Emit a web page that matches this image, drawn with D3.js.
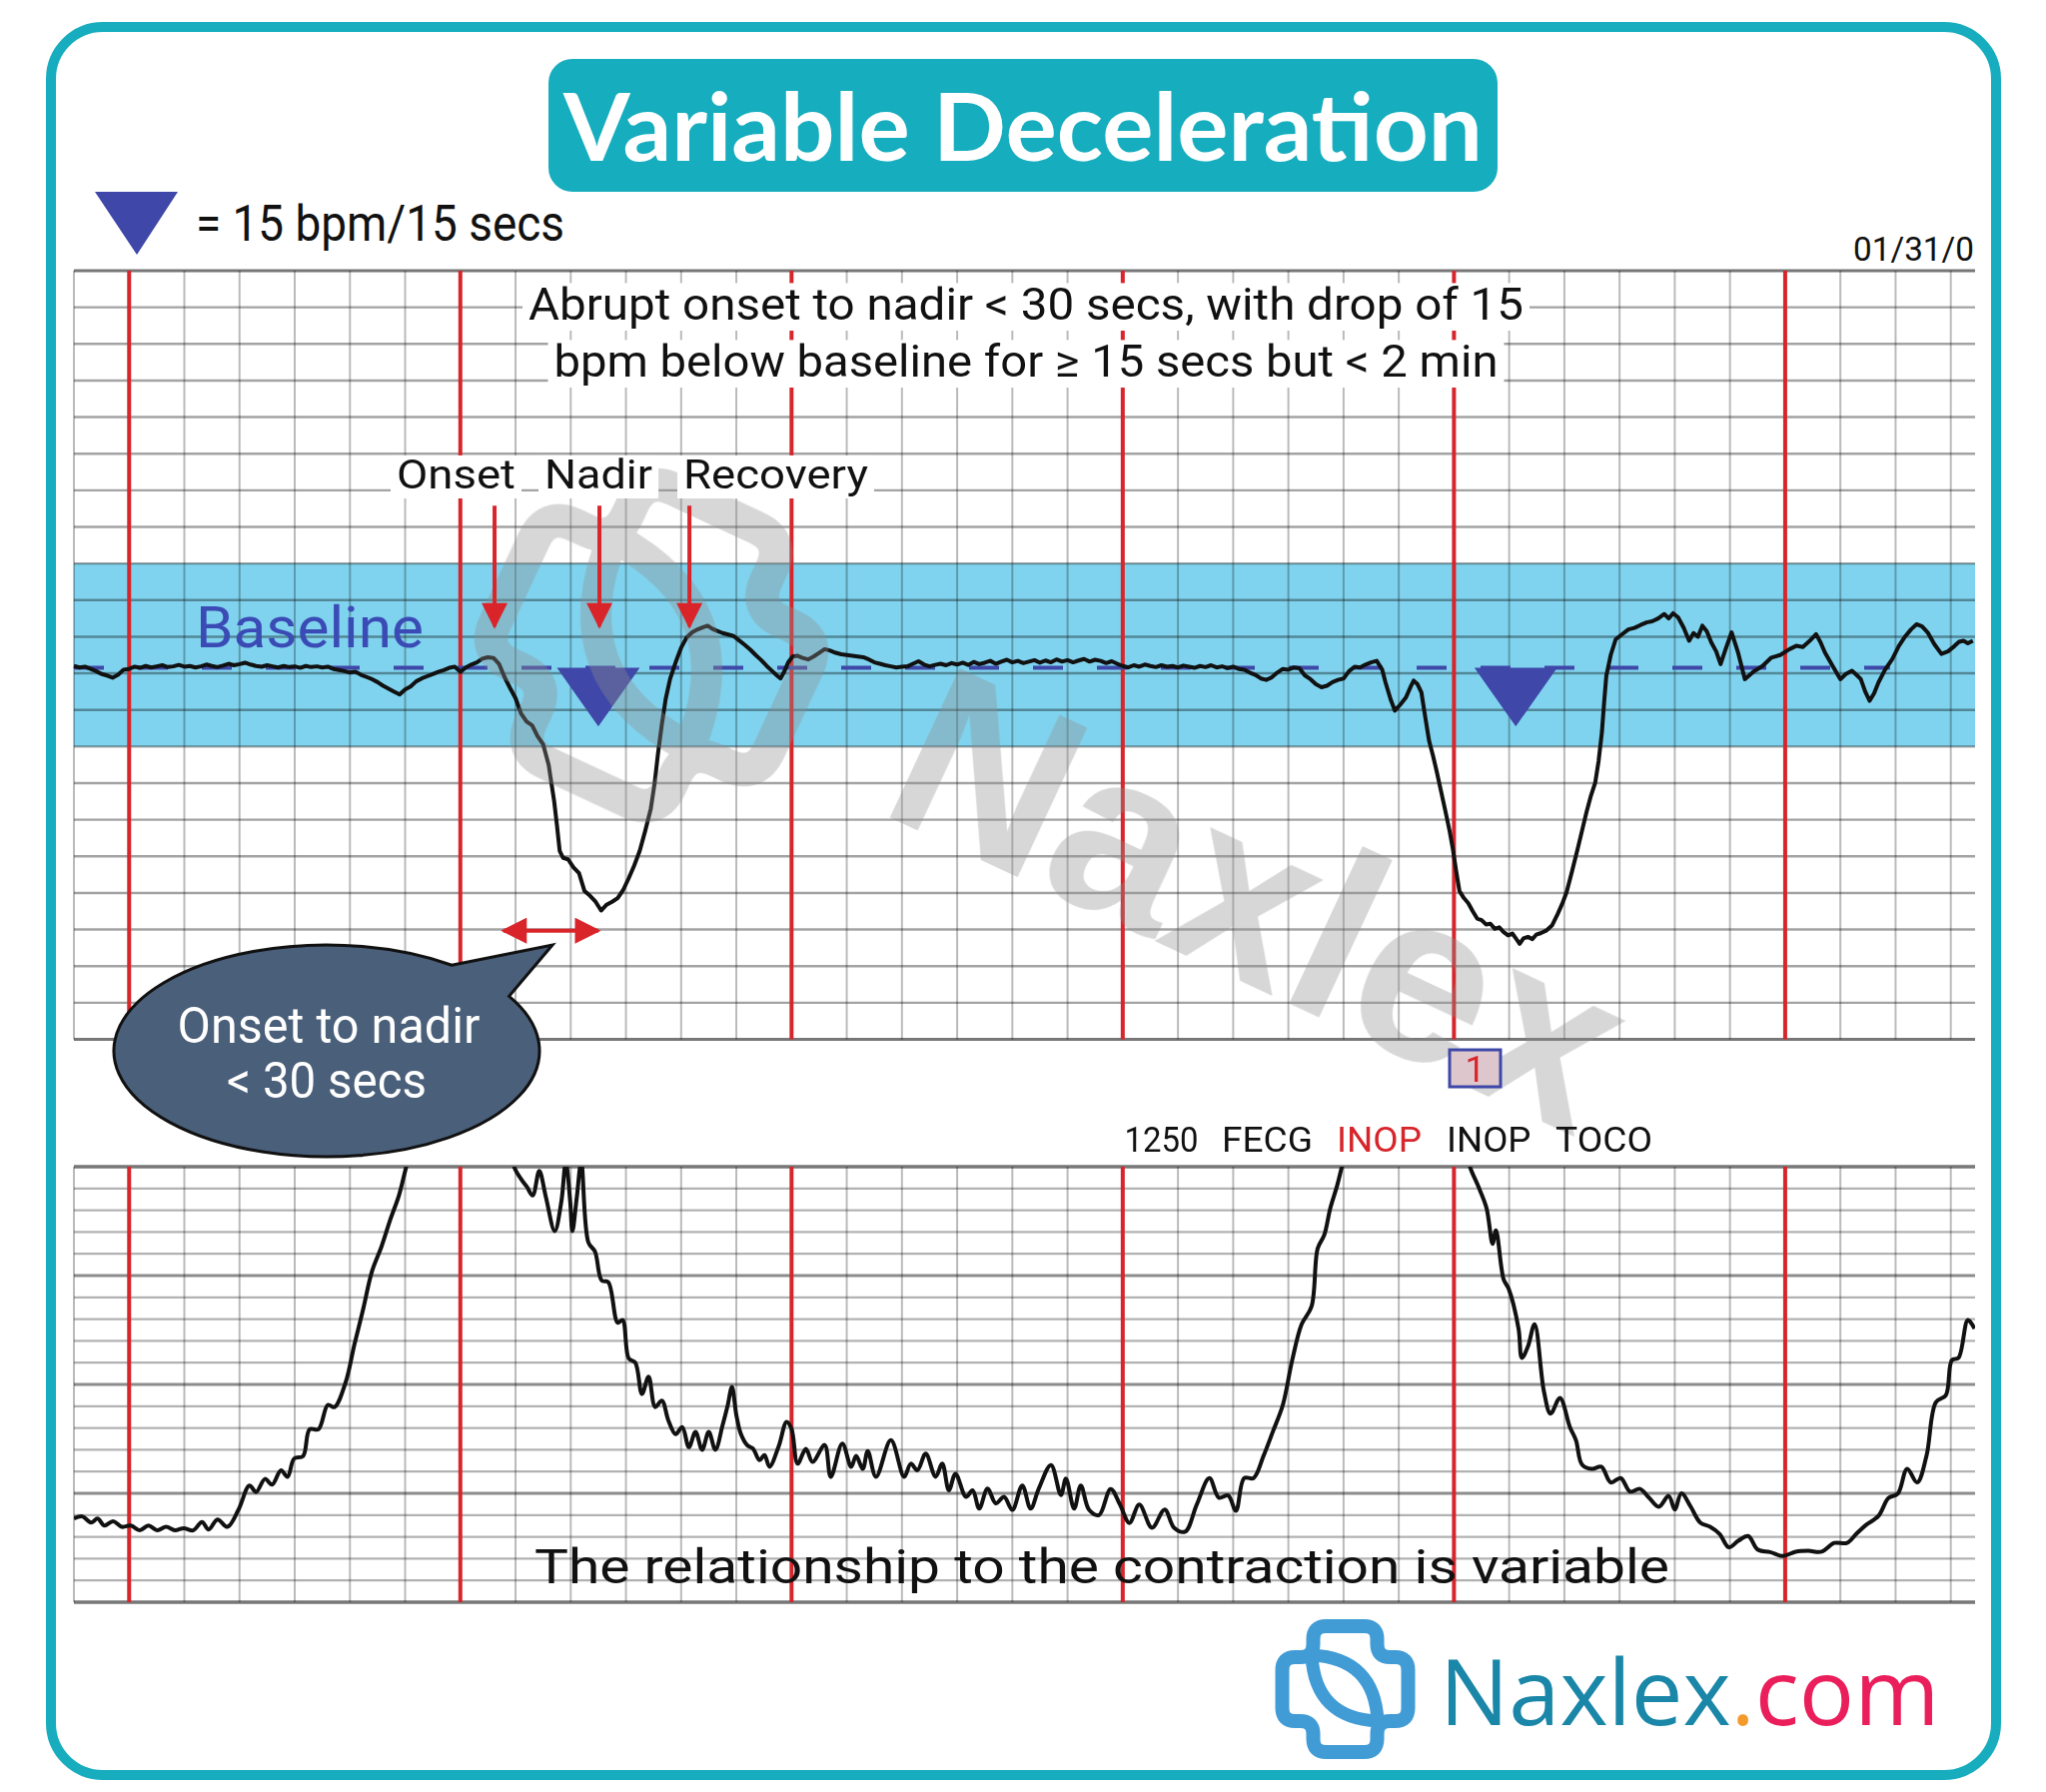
<!DOCTYPE html>
<html lang="en">
<head>
  <meta charset="UTF-8">
  <title>Variable Deceleration</title>
  <script src="https://d3js.org/d3.v7.min.js"></script>
  <style>
    body { margin: 0; background: #fff; }
    svg { display: block; }
  </style>
</head>
<body>
  <script>
    const W = 2048, H = 1794;
    const NARROW = "Roboto, 'Liberation Sans', sans-serif";
    const PLAIN = "Roboto, 'Liberation Sans', sans-serif";

    // ---- data ----
    const baselineBpm = 131.5;
    const bandBpm = [110, 160];
    const nadirSecs = [95, 261.2];          // blue triangle markers
    const markerSize = { secs: 15, bpm: 15 }; // triangle = 15 bpm / 15 secs
    const phaseLabels = ["Onset", "Nadir", "Recovery"];
    const phaseSecs = [76.2, 95.2, 111.5];
    const onsetToNadir = [77.8, 95];
    const statusWords = ["1250", "FECG", "INOP", "INOP", "TOCO"];
    const statusColors = ["#111", "#111", "#d7262b", "#111", "#111"];
    const brandParts = ["Naxlex", ".", "com"];
    const brandColors = ["#1a86a8", "#f39a2b", "#e91e5a"];

    // fetal heart rate [seconds, bpm]
    const fhrPoints = [
      [0,132.0],[1,131.6],[2,131.8],[3,131.2],[4,130.6],[5,129.8],[6,129.4],[7,128.8],[8,129.6],[9,131.0],
      [10,131.2],[11,131.8],[12,131.5],[13,132.0],[14,131.6],[15,131.9],[16,132.2],[17,131.7],[18,131.9],[19,132.3],
      [20,131.8],[21,132.0],[22,131.6],[23,131.9],[24,132.4],[25,132.0],[26,131.7],[27,132.1],[28,132.6],[29,132.2],
      [30,132.5],[31,132.9],[32,132.4],[33,132.0],[34,131.8],[35,132.2],[36,131.9],[37,131.6],[38,132.0],[39,131.7],
      [40,131.9],[41,131.5],[42,132.0],[43,131.7],[44,131.9],[45,131.6],[46,131.8],[47,131.2],[48,130.9],[49,130.6],
      [50,130.2],[51,130.4],[52,129.6],[53,129.0],[54,128.4],[55,127.6],[56,126.6],[57,125.8],[58,125.0],[59,124.2],
      [60,125.6],[61,126.4],[62,127.8],[63,128.6],[64,129.2],[65,129.8],[66,130.4],[67,130.9],[68,131.5],[69,131.8],
      [70,130.4],[71,131.6],[72,132.4],[73,133.0],[74,134.0],[75,134.4],[76,134.2],[77,132.6],[78,129.0],[79,126.0],
      [80,123.2],[81,119.0],[82,116.8],[83,115.8],[84,112.8],[85,110.6],[86,105.0],[87,95.0],[87.5,88.5],[88,81.5],
      [88.6,79.6],[89.5,79.2],[90.5,77.0],[91.5,75.4],[92.5,70.5],[93.5,69.2],[94.5,67.6],[95.5,65.2],[96.5,66.8],[97.5,67.6],
      [98.5,68.6],[99.5,70.8],[100.5,74.0],[101.5,77.5],[102.5,81.5],[103.5,87.0],[104.5,93.0],[105.2,100.0],[105.8,108.0],[106.5,116.0],
      [107.2,123.0],[108,128.5],[109,133.0],[110,137.0],[111,139.8],[112,141.2],[113,142.0],[114,142.6],[114.8,143.0],[115.6,142.2],
      [116.5,141.6],[117.5,141.0],[118.5,140.6],[119.5,140.2],[120.5,139.0],[121.5,137.8],[122.5,136.5],[123.5,135.0],[124.5,133.6],[125.5,132.0],
      [126.5,130.6],[127.5,129.2],[128,128.6],[128.6,130.2],[129.4,133.0],[130.2,134.6],[131,134.8],[132,134.2],[133,133.8],[134,134.6],
      [135,135.6],[136,136.6],[137,136.2],[138,135.6],[139,135.2],[140,135.0],[141,134.8],[142,134.6],[143,134.4],[144,133.8],
      [145,133.0],[146,132.6],[147,132.2],[148,131.9],[149,131.6],[150,131.8],[151,131.9],[152,132.6],[153,133.3],[154,132.4],
      [155,131.9],[156,132.3],[157,132.6],[158,132.2],[159,132.8],[160,132.4],[161,132.9],[162,132.3],[163,133.1],[164,132.5],
      [165,132.9],[166,133.4],[167,132.6],[168,133.2],[169,133.7],[170,133.0],[171,133.4],[172,132.8],[173,133.2],[174,133.6],
      [175,132.9],[176,133.5],[177,133.0],[178,133.8],[179,133.2],[180,133.6],[181,133.0],[182,133.5],[183,133.9],[184,133.2],
      [185,133.7],[186,133.4],[187,132.8],[188,133.3],[189,132.6],[190,132.0],[191,131.6],[192,132.2],[193,131.8],[194,132.4],
      [195,132.0],[196,131.7],[197,132.2],[198,131.8],[199,132.0],[200,131.6],[201,132.1],[202,131.8],[203,131.5],[204,132.0],
      [205,131.7],[206,132.2],[207,131.6],[208,131.9],[209,131.4],[210,131.8],[211,131.2],[212,131.0],[213,130.2],[214,129.6],
      [215,128.6],[216,128.2],[217,128.9],[218,130.2],[219,131.2],[220,131.0],[221,131.6],[222,131.4],[223,129.4],[224,128.4],
      [225,127.0],[226,126.2],[227,126.6],[228,127.6],[229,128.2],[230,128.6],[231,130.6],[232,131.8],[233,131.6],[234,132.4],
      [235,133.0],[236,133.4],[237,131.0],[237.6,127.5],[238.5,123.0],[239.3,119.8],[240.3,121.5],[241.3,123.4],[242.2,126.5],[242.7,128.0],
      [243.4,127.0],[244.1,124.8],[244.8,118.0],[245.5,111.5],[246.2,107.5],[246.9,103.0],[247.7,97.5],[248.5,92.0],[249.2,87.0],[249.8,82.0],
      [250.4,76.0],[251,70.5],[251.8,68.6],[252.6,67.2],[253.4,65.0],[254.2,63.0],[255,62.6],[255.8,61.4],[256.6,61.6],[257.4,60.2],
      [258.2,60.6],[259,59.3],[259.8,58.4],[260.6,58.9],[261.4,57.2],[261.9,56.1],[262.6,57.6],[263.4,58.0],[264.2,57.4],[264.9,58.6],
      [265.7,59.0],[266.7,59.7],[267.8,61.2],[268.8,64.3],[269.6,67.0],[270.4,70.2],[271.4,76.0],[272.4,82.0],[273.2,87.0],[274,92.0],
      [274.8,96.5],[275.6,100.2],[276.2,106.0],[276.8,113.9],[277.2,122.0],[277.6,129.3],[278.4,135.0],[279.3,139.3],[280.4,140.6],[281.6,142.0],
      [282.7,142.4],[283.8,143.2],[284.9,143.9],[285.9,144.2],[287,145.0],[288.1,146.2],[288.9,145.0],[289.7,146.4],[290.6,145.3],[291.6,142.5],
      [292.6,138.9],[293.4,141.0],[294.2,140.0],[295,143.0],[295.8,141.5],[296.6,138.5],[297.5,136.0],[298.3,132.5],[299.3,137.0],[300.3,141.2],
      [301.5,135.5],[302.7,128.4],[304.3,130.5],[305.9,132.0],[307.5,134.3],[309.1,135.0],[310.8,136.6],[312,137.5],[313.2,137.2],[314.4,138.8],
      [315.6,140.7],[316.4,138.5],[317.2,135.7],[318.6,132.0],[320,128.4],[321,129.8],[322.1,130.7],[322.9,129.6],[323.7,128.4],[324.5,125.0],
      [325.3,122.5],[326.1,124.5],[326.9,127.5],[328.1,131.0],[329.4,133.9],[330.6,137.5],[331.8,140.2],[332.8,142.0],[333.8,143.4],[334.8,142.8],
      [335.8,141.2],[337,138.0],[338.3,135.3],[339.5,136.0],[340.7,137.5],[341.5,138.6],[342.3,138.9],[343.1,138.2],[344,138.9]
    ];

    // uterine activity (toco) [seconds, mmHg]; values over 100 run off the paper
    const tocoPoints = [
      [0,19.2],[1.5,19.7],[3.1,18.3],[4.3,19.2],[5.5,17.6],[7.1,18.6],[8.7,17.3],[10.3,17.6],[11.9,16.5],[13.5,17.6],
      [15.1,16.5],[16.7,17.3],[18.3,16.5],[19.9,17.0],[21.6,16.5],[23.2,18.4],[24.4,16.7],[26,19.0],[27.8,17.3],[29.8,21.2],
      [31.8,26.8],[33,25.3],[34.6,28.3],[35.9,27.0],[37.5,30.3],[38.7,28.8],[39.9,33.0],[41.5,33.5],[42.7,39.7],[44.3,39.7],
      [46,45.3],[47.2,44.8],[49.2,50.4],[50.8,59.1],[52.4,67.3],[54,76.0],[55.7,81.6],[57.3,87.8],[58.9,93.5],[60.1,99.5],
      [61.5,106],[64,112],[70,118],[76,112],[79,104],[79.9,99.5],[81.1,97.0],[82,95.5],[83.1,93.4],[84.3,99.0],
      [85.5,93.0],[87.1,85.2],[88.3,92.0],[89.1,101],[89.9,92.0],[90.3,85.2],[91.1,93.0],[91.9,101],[93.2,82.6],[94.4,80.5],
      [95.6,73.9],[96.8,73.5],[98.5,64.2],[99.4,64.8],[100.5,56.0],[101.7,55.0],[102.9,47.8],[104.1,51.8],[105.3,44.8],[106.5,46.3],
      [107.7,41.7],[109,38.6],[110.2,40.2],[111.4,35.6],[112.6,39.1],[113.8,35.0],[115,39.1],[116.2,35.0],[117.5,40.6],[118.4,45.0],
      [119.2,49.4],[120,43.0],[120.8,38.7],[122,36.0],[123,35.3],[124.2,32.6],[125.1,33.8],[126,31.1],[127.7,35.9],[129.1,41.4],
      [130,39.8],[131.1,31.8],[132.6,35.2],[133.8,32.2],[136,36.1],[137.1,28.8],[139.2,36.4],[140.8,31.1],[141.7,33.6],[142.9,30.6],
      [143.8,34.7],[145.3,28.8],[148,37.2],[150.4,28.8],[151.6,31.8],[152.8,30.3],[154.3,34.1],[156.1,28.8],[157.3,31.8],[158.5,25.7],
      [159.7,29.5],[161.6,24.2],[162.8,25.7],[164,21.5],[165.5,26.1],[167,22.7],[168.5,24.2],[170,21.2],[171.8,26.8],[173.3,21.5],
      [174.8,26.1],[177,31.5],[178.8,24.6],[179.7,28.4],[181.2,21.5],[182.4,26.8],[183.9,21.2],[185.7,20.0],[187.8,26.0],[189.5,22.4],
      [191.2,18.2],[193,22.4],[195.3,17.1],[197.6,21.3],[199.3,17.1],[201.3,16.2],[203.4,22.4],[205.7,28.5],[207.4,24.0],[209.1,24.5],
      [210.5,21.0],[212,28.5],[213.7,28.5],[215.5,33.6],[217.2,39.2],[219,45.3],[220.7,55.6],[222.4,63.8],[224.2,67.9],[225.3,81.2],
      [226.5,84.3],[227.6,90.5],[228.8,95.5],[229.7,100],[231,106],[236,114],[242,118],[248,113],[252,104],[253,99.6],
      [254.4,95.5],[255.9,90.5],[257,82.3],[257.6,85.4],[259,74.1],[259.9,72.0],[261.7,62.8],[262.3,56.1],[263.4,58.7],[264.6,63.8],
      [266.3,48.4],[267.5,43.3],[269.2,46.9],[271,40.2],[272.1,37.2],[273.2,31.6],[275,30.6],[276.7,31.1],[278.4,27.5],[280.2,28.5],
      [281.9,25.4],[283.7,26.0],[285.4,23.9],[287.1,21.9],[288.9,24.4],[290,21.3],[291.2,25.0],[292.9,21.9],[294.6,18.3],[296.4,17.3],
      [298.1,15.7],[299.8,12.6],[301.5,14.1],[303.3,15.2],[305,12.1],[307.3,11.5],[309.6,10.6],[311.9,11.6],[314.2,11.8],[316.6,11.6],
      [318.9,13.6],[321.2,13.6],[322.9,15.7],[324.6,17.7],[326.9,19.8],[328.7,23.9],[330.4,24.9],[332.1,30.6],[333.9,27.5],[335.6,33.6],
      [337.3,45.9],[339.1,47.5],[340.2,55.6],[341.4,56.1],[343.1,64.8],[344.3,62.8]
    ];

    // ---- scales ----
    const x = d3.scaleLinear().domain([0, 344.4]).range([74, 1977]);
    const yFhr = d3.scaleLinear().domain([30, 240]).range([1040.5, 271]);
    const yToco = d3.scaleLinear().domain([0, 100]).range([1604, 1168]);
    const gridSecs = d3.range(0, 341, 10);
    const isMinute = d => (d - 10) % 60 === 0;

    const svg = d3.select("body").append("svg")
      .attr("width", W).attr("height", H)
      .attr("viewBox", `0 0 ${W} ${H}`);

    const defs = svg.append("defs");
    defs.append("marker")
      .attr("id", "head")
      .attr("viewBox", "0 0 10 10")
      .attr("refX", 9).attr("refY", 5)
      .attr("markerUnits", "userSpaceOnUse")
      .attr("markerWidth", 28).attr("markerHeight", 26)
      .attr("orient", "auto-start-reverse")
      .append("path").attr("d", "M0,0 L10,5 L0,10 z").attr("fill", "#d9252a");
    defs.append("clipPath").attr("id", "tocoClip")
      .append("rect")
      .attr("x", x(0)).attr("y", yToco(100))
      .attr("width", x(344.4) - x(0)).attr("height", yToco(0) - yToco(100));

    // outer frame
    svg.append("rect")
      .attr("x", 51).attr("y", 27).attr("width", 1947).attr("height", 1750)
      .attr("rx", 52)
      .attr("fill", "#fff").attr("stroke", "#17adbe").attr("stroke-width", 10);

    // title
    svg.append("rect")
      .attr("x", 549).attr("y", 59).attr("width", 950).attr("height", 133)
      .attr("rx", 24).attr("fill", "#16adbe");
    svg.append("text")
      .attr("x", 1024).attr("y", 161)
      .attr("text-anchor", "middle")
      .attr("font-family", "'Comic Sans MS', Lato, sans-serif")
      .attr("font-weight", 700).attr("font-size", 94)
      .attr("textLength", 920).attr("lengthAdjust", "spacingAndGlyphs")
      .attr("fill", "#fff")
      .text("Variable Deceleration");

    // legend
    svg.append("path")
      .attr("d", "M95,192 L178,192 L137,255 Z")
      .attr("fill", "#3f47a8");
    svg.append("text")
      .attr("x", 196).attr("y", 241)
      .attr("font-family", NARROW).attr("font-size", 50)
      .attr("textLength", 369).attr("lengthAdjust", "spacingAndGlyphs")
      .attr("fill", "#111")
      .text("= 15 bpm/15 secs");
    svg.append("text")
      .attr("x", 1976).attr("y", 261)
      .attr("text-anchor", "end")
      .attr("font-family", NARROW).attr("font-size", 34)
      .attr("textLength", 121).attr("lengthAdjust", "spacingAndGlyphs")
      .attr("fill", "#111")
      .text("01/31/0");

    // ---- FHR panel ----
    const fhr = svg.append("g");
    fhr.append("rect")
      .attr("x", x(0)).attr("width", x(344.4) - x(0))
      .attr("y", yFhr(bandBpm[1])).attr("height", yFhr(bandBpm[0]) - yFhr(bandBpm[1]))
      .attr("fill", "#80d3ee");

    fhr.selectAll(".hline")
      .data(d3.range(30, 241, 10))
      .join("line")
      .attr("x1", x(0)).attr("x2", x(344.4))
      .attr("y1", d => yFhr(d)).attr("y2", d => yFhr(d))
      .attr("stroke", d => (d === 30 || d === 240) ? "#777" : "rgba(0,0,0,0.36)")
      .attr("stroke-width", d => (d === 30 || d === 240) ? 3 : 2.4);

    fhr.selectAll(".vline")
      .data(gridSecs)
      .join("line")
      .attr("x1", d => x(d)).attr("x2", d => x(d))
      .attr("y1", yFhr(240)).attr("y2", yFhr(30))
      .attr("stroke", d => isMinute(d) ? "#d7262b" : "rgba(0,0,0,0.27)")
      .attr("stroke-width", d => isMinute(d) ? 4 : 2);

    // ---- toco panel ----
    const toco = svg.append("g");
    toco.selectAll(".hline")
      .data(d3.range(0, 101, 5))
      .join("line")
      .attr("x1", x(0)).attr("x2", x(344.4))
      .attr("y1", d => yToco(d)).attr("y2", d => yToco(d))
      .attr("stroke", d => (d === 0 || d === 100) ? "#777" : (d % 25 === 0 ? "rgba(0,0,0,0.45)" : "rgba(0,0,0,0.3)"))
      .attr("stroke-width", d => (d === 0 || d === 100) ? 3.5 : (d % 25 === 0 ? 3 : 2.2));
    toco.selectAll(".vline")
      .data(gridSecs)
      .join("line")
      .attr("x1", d => x(d)).attr("x2", d => x(d))
      .attr("y1", yToco(100)).attr("y2", yToco(0))
      .attr("stroke", d => isMinute(d) ? "#d7262b" : "rgba(0,0,0,0.27)")
      .attr("stroke-width", d => isMinute(d) ? 4 : 2);

    // ---- watermark ----
    function roundedPoly(pts, r) {
      const n = pts.length;
      let d = "";
      for (let i = 0; i < n; i++) {
        const p = pts[i], a = pts[(i - 1 + n) % n], b = pts[(i + 1) % n];
        const ua = [a[0] - p[0], a[1] - p[1]], ub = [b[0] - p[0], b[1] - p[1]];
        const la = Math.hypot(ua[0], ua[1]), lb = Math.hypot(ub[0], ub[1]);
        const s = [p[0] + ua[0] / la * r, p[1] + ua[1] / la * r];
        const e = [p[0] + ub[0] / lb * r, p[1] + ub[1] / lb * r];
        d += (i === 0 ? "M" : "L") + s[0] + "," + s[1] + "Q" + p[0] + "," + p[1] + " " + e[0] + "," + e[1];
      }
      return d + "Z";
    }
    function drawLogo(g, color) {
      const cx = 71.5, cy = 70, w = 32, e = 63;
      const pts = [[-w,-e],[w,-e],[w,-w],[e,-w],[e,w],[w,w],[w,e],[-w,e],[-w,w],[-e,w],[-e,-w],[-w,-w]]
        .map(p => [cx + p[0], cy + p[1]]);
      g.append("path").attr("d", roundedPoly(pts, 13))
        .attr("fill", "none").attr("stroke", color).attr("stroke-width", 14);
      g.append("path").attr("d", "M38,36 Q101,39 104,102 Q41,99 38,36 Z")
        .attr("fill", "none").attr("stroke", color).attr("stroke-width", 13)
        .attr("stroke-linejoin", "round");
    }
    const wm = svg.append("g").attr("opacity", 0.36);
    drawLogo(wm.append("g").attr("transform", "translate(652,646) rotate(25) scale(2.4) translate(-71.5,-70)"), "#8f8f8f");
    wm.append("text")
      .attr("transform", "translate(1262,900) rotate(25)")
      .attr("text-anchor", "middle").attr("dominant-baseline", "central")
      .attr("font-family", "'Liberation Sans', Arial, sans-serif")
      .attr("font-weight", 700).attr("font-size", 240)
      .attr("fill", "#8f8f8f")
      .text("Naxlex");

    // baseline, triangles
    fhr.append("line")
      .attr("x1", x(0)).attr("x2", x(329))
      .attr("y1", yFhr(baselineBpm)).attr("y2", yFhr(baselineBpm))
      .attr("stroke", "#3f48a8").attr("stroke-width", 4)
      .attr("stroke-dasharray", "30 34");
    fhr.selectAll(".nadir")
      .data(nadirSecs)
      .join("path")
      .attr("d", d => {
        const l = x(d - markerSize.secs / 2), r = x(d + markerSize.secs / 2);
        return `M${l},${yFhr(baselineBpm)} L${r},${yFhr(baselineBpm)} L${x(d)},${yFhr(baselineBpm - markerSize.bpm - 1)} Z`;
      })
      .attr("fill", "#3f47a8");

    fhr.append("text")
      .attr("x", 196).attr("y", 648)
      .attr("font-family", NARROW).attr("font-size", 57)
      .attr("textLength", 228).attr("lengthAdjust", "spacingAndGlyphs")
      .attr("fill", "#3b4bb5")
      .text("Baseline");

    // traces
    const fhrLine = d3.line().x(d => x(d[0])).y(d => yFhr(d[1]));
    fhr.append("path")
      .datum(fhrPoints)
      .attr("d", fhrLine)
      .attr("fill", "none").attr("stroke", "#111").attr("stroke-width", 4)
      .attr("stroke-linejoin", "round");

    const tocoLine = d3.line().x(d => x(d[0])).y(d => yToco(d[1])).curve(d3.curveCatmullRom.alpha(0.5));
    toco.append("path")
      .datum(tocoPoints)
      .attr("clip-path", "url(#tocoClip)")
      .attr("d", tocoLine)
      .attr("fill", "none").attr("stroke", "#111").attr("stroke-width", 4)
      .attr("stroke-linejoin", "round");

    // annotations on white label boxes
    const notes = svg.append("g");
    function boxedText(px, py, size, len, str, anchor) {
      const g = notes.append("g");
      const t = g.append("text")
        .attr("x", px).attr("y", py)
        .attr("text-anchor", anchor || "middle")
        .attr("font-family", NARROW).attr("font-size", size)
        .attr("textLength", len).attr("lengthAdjust", "spacingAndGlyphs")
        .attr("fill", "#111")
        .text(str);
      const b = t.node().getBBox();
      g.insert("rect", "text")
        .attr("x", b.x - 6).attr("y", b.y + size * 0.12)
        .attr("width", b.width + 12).attr("height", b.height - size * 0.12)
        .attr("fill", "#fff");
    }
    boxedText(1027, 320, 45, 996, "Abrupt onset to nadir < 30 secs, with drop of 15");
    boxedText(1027, 377, 45, 945, "bpm below baseline for \u2265 15 secs but < 2 min");

    const labelCentre = [456.5, 599, 776.5];
    const labelWidth = [119, 108, 185];
    phaseLabels.forEach((d, i) => boxedText(labelCentre[i], 489, 41, labelWidth[i], d));

    svg.selectAll(".phaseArrow")
      .data(phaseSecs)
      .join("line")
      .attr("x1", d => x(d)).attr("x2", d => x(d))
      .attr("y1", yFhr(175.8)).attr("y2", yFhr(142.8))
      .attr("stroke", "#d9252a").attr("stroke-width", 4)
      .attr("marker-end", "url(#head)");

    svg.append("line")
      .attr("x1", x(onsetToNadir[0])).attr("x2", x(onsetToNadir[1]))
      .attr("y1", yFhr(59.7)).attr("y2", yFhr(59.7))
      .attr("stroke", "#d9252a").attr("stroke-width", 4)
      .attr("marker-start", "url(#head)").attr("marker-end", "url(#head)");

    // callout bubble
    const bc = { x: 327, y: 1052, rx: 213, ry: 106 };
    const onE = a => [bc.x + bc.rx * Math.cos(a * Math.PI / 180), bc.y + bc.ry * Math.sin(a * Math.PI / 180)];
    const p1 = onE(-54), p2 = onE(-31);
    svg.append("path")
      .attr("d", `M${p1} L553,946 L${p2} A${bc.rx},${bc.ry} 0 1 1 ${p1} Z`)
      .attr("fill", "#4a5f79").attr("stroke", "#111").attr("stroke-width", 3);
    svg.append("text")
      .attr("x", 329).attr("y", 1044)
      .attr("text-anchor", "middle")
      .attr("font-family", PLAIN).attr("font-size", 50)
      .attr("textLength", 303).attr("lengthAdjust", "spacingAndGlyphs")
      .attr("fill", "#fff")
      .text("Onset to nadir");
    svg.append("text")
      .attr("x", 327).attr("y", 1099)
      .attr("text-anchor", "middle")
      .attr("font-family", PLAIN).attr("font-size", 50)
      .attr("textLength", 200).attr("lengthAdjust", "spacingAndGlyphs")
      .attr("fill", "#fff")
      .text("< 30 secs");

    // event mark and status line
    svg.append("rect")
      .attr("x", 1451).attr("y", 1051).attr("width", 51).attr("height", 37)
      .attr("fill", "#ddc7cd").attr("stroke", "#3f48a8").attr("stroke-width", 3);
    svg.append("text")
      .attr("x", 1476.5).attr("y", 1083)
      .attr("text-anchor", "middle")
      .attr("font-family", NARROW).attr("font-size", 36)
      .attr("fill", "#d7262b")
      .text("1");

    const statusX = [1125.6, 1223, 1338, 1448, 1557];
    const statusW = [74, 91, 85, 84.5, 97];
    svg.selectAll(".status")
      .data(statusWords)
      .join("text")
      .attr("x", (d, i) => statusX[i]).attr("y", 1152.5)
      .attr("font-family", NARROW).attr("font-size", 35)
      .attr("textLength", (d, i) => statusW[i]).attr("lengthAdjust", "spacingAndGlyphs")
      .attr("fill", (d, i) => statusColors[i])
      .text(d => d);

    svg.append("text")
      .attr("x", 535).attr("y", 1585)
      .attr("font-family", PLAIN).attr("font-size", 49)
      .attr("textLength", 1136).attr("lengthAdjust", "spacingAndGlyphs")
      .attr("fill", "#111")
      .text("The relationship to the contraction is variable");

    // brand: logo and three separately placed words
    drawLogo(svg.append("g").attr("transform", "translate(1275,1621)"), "#419cd6");
    let brandX = 1441;
    brandParts.forEach((part, i) => {
      const t = svg.append("text")
        .attr("x", brandX).attr("y", 1727)
        .attr("font-family", "'Open Sans', 'Noto Sans', sans-serif")
        .attr("font-size", 92)
        .attr("fill", brandColors[i])
        .text(part);
      brandX += t.node().getComputedTextLength();
    });
  </script>
</body>
</html>
